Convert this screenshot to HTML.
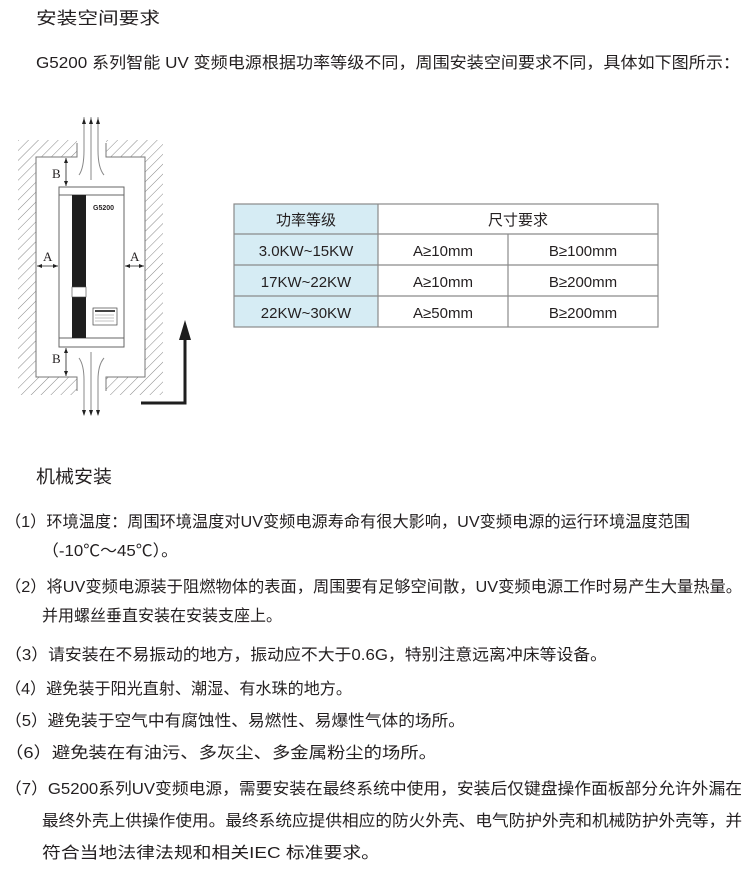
<!DOCTYPE html>
<html><head><meta charset="utf-8"><style>
html,body{margin:0;padding:0;background:#fff;}
svg{display:block}
text{font-family:"Liberation Sans","Noto Sans CJK SC",sans-serif;fill:#231f20}
</style></head><body>
<svg width="750" height="891" viewBox="0 0 750 891" xmlns="http://www.w3.org/2000/svg">
<defs>
<pattern id="h" width="7" height="7" patternUnits="userSpaceOnUse" patternTransform="rotate(45)">
<line x1="0" y1="0" x2="0" y2="7" stroke="#888" stroke-width="1"/>
</pattern>
</defs>
<text x="36" y="24" font-size="17" textLength="124" lengthAdjust="spacingAndGlyphs">安装空间要求</text>
<text x="36" y="68" font-size="16" textLength="704" lengthAdjust="spacingAndGlyphs">G5200  系列智能 UV 变频电源根据功率等级不同，周围安装空间要求不同，具体如下图所示：</text>

<path d="M18,140 H77 V157 H36 V377 H77 V395 H18 Z" fill="url(#h)"/>
<path d="M106,140 H163 V395 H106 V377 H145 V157 H106 Z" fill="url(#h)"/>
<path d="M77,143 V157 H36 V377 H77 V391 M106,143 V157 H145 V377 H106 V391" fill="none" stroke="#777" stroke-width="1"/>
<path d="M79,175 Q84,168 84,150 V117 M104,175 Q98,168 98,150 V117 M91,180 V117" fill="none" stroke="#888" stroke-width="1"/>
<path d="M84,118 l-2,6 h4z M91,118 l-2,6 h4z M98,118 l-2,6 h4z" fill="#222"/>
<path d="M79,358 Q84,365 84,380 V415 M104,358 Q98,365 98,380 V415 M91,352 V415" fill="none" stroke="#888" stroke-width="1"/>
<path d="M84,416 l-2,-6 h4z M91,416 l-2,-6 h4z M98,416 l-2,-6 h4z" fill="#222"/>
<rect x="59" y="187" width="65" height="160" fill="#fff" stroke="#666"/>
<line x1="59" y1="195" x2="124" y2="195" stroke="#666"/>
<line x1="59" y1="338" x2="124" y2="338" stroke="#666"/>
<rect x="72" y="195" width="14" height="143" fill="#1e1e1e"/>
<rect x="72" y="287" width="14" height="10" fill="#fff" stroke="#444" stroke-width="0.6"/>
<text x="93" y="210" font-size="7" font-weight="bold" fill="#222">G5200</text>
<rect x="93" y="308" width="24" height="17" fill="#fff" stroke="#444" stroke-width="0.7"/>
<rect x="95" y="310" width="20" height="2" fill="#444"/>
<line x1="95" y1="315" x2="114" y2="315" stroke="#888" stroke-width="0.6"/>
<line x1="95" y1="318" x2="114" y2="318" stroke="#888" stroke-width="0.6"/>
<line x1="95" y1="321" x2="114" y2="321" stroke="#888" stroke-width="0.6"/>
<line x1="66" y1="158" x2="66" y2="186" stroke="#222" stroke-width="0.8"/>
<path d="M66,158 l-2,5 h4z M66,186 l-2,-5 h4z" fill="#222"/>
<text x="52" y="178" font-size="13" style="font-family:'Liberation Serif',serif">B</text>
<line x1="66" y1="348" x2="66" y2="376" stroke="#222" stroke-width="0.8"/>
<path d="M66,348 l-2,5 h4z M66,376 l-2,-5 h4z" fill="#222"/>
<text x="52" y="363" font-size="13" style="font-family:'Liberation Serif',serif">B</text>
<line x1="37" y1="266" x2="58" y2="266" stroke="#222" stroke-width="0.8"/>
<path d="M37,266 l5,-2 v4z M58,266 l-5,-2 v4z" fill="#222"/>
<text x="43" y="261" font-size="13" style="font-family:'Liberation Serif',serif">A</text>
<line x1="125" y1="266" x2="144" y2="266" stroke="#222" stroke-width="0.8"/>
<path d="M125,266 l5,-2 v4z M144,266 l-5,-2 v4z" fill="#222"/>
<text x="130" y="261" font-size="13" style="font-family:'Liberation Serif',serif">A</text>
<path d="M141,403 H185 V335" fill="none" stroke="#1e1e1e" stroke-width="3"/>
<path d="M185,320 l-6,20 h12z" fill="#1e1e1e"/>

<rect x="234" y="204" width="144" height="123" fill="#d6ecf4"/>
<g stroke="#8a8a8a" stroke-width="1.2" fill="none">
<rect x="234" y="204" width="424" height="123"/>
<line x1="234" y1="234" x2="658" y2="234"/>
<line x1="234" y1="265" x2="658" y2="265"/>
<line x1="234" y1="296" x2="658" y2="296"/>
<line x1="378" y1="204" x2="378" y2="327"/>
<line x1="508" y1="234" x2="508" y2="327"/>
</g>
<g font-size="15" text-anchor="middle">
<text x="306" y="225">功率等级</text>
<text x="518" y="225">尺寸要求</text>
<text x="306" y="256">3.0KW~15KW</text>
<text x="443" y="256">A≥10mm</text>
<text x="583" y="256">B≥100mm</text>
<text x="306" y="287">17KW~22KW</text>
<text x="443" y="287">A≥10mm</text>
<text x="583" y="287">B≥200mm</text>
<text x="306" y="318">22KW~30KW</text>
<text x="443" y="318">A≥50mm</text>
<text x="583" y="318">B≥200mm</text>
</g>

<text x="36" y="483" font-size="18" textLength="76" lengthAdjust="spacingAndGlyphs">机械安装</text>
<g font-size="16">
<text x="5" y="527" textLength="685" lengthAdjust="spacingAndGlyphs">（1）环境温度：周围环境温度对UV变频电源寿命有很大影响，UV变频电源的运行环境温度范围</text>
<text x="42" y="556" textLength="136" lengthAdjust="spacingAndGlyphs">（-10℃～45℃）。</text>
<text x="5" y="592" textLength="737" lengthAdjust="spacingAndGlyphs">（2）将UV变频电源装于阻燃物体的表面，周围要有足够空间散，UV变频电源工作时易产生大量热量。</text>
<text x="42" y="621" textLength="240" lengthAdjust="spacingAndGlyphs">并用螺丝垂直安装在安装支座上。</text>
<text x="5" y="660" textLength="602" lengthAdjust="spacingAndGlyphs">（3）请安装在不易振动的地方，振动应不大于0.6G，特别注意远离冲床等设备。</text>
<text x="5" y="694" textLength="347" lengthAdjust="spacingAndGlyphs">（4）避免装于阳光直射、潮湿、有水珠的地方。</text>
<text x="5" y="726" textLength="460" lengthAdjust="spacingAndGlyphs">（5）避免装于空气中有腐蚀性、易燃性、易爆性气体的场所。</text>
<text x="5" y="758" textLength="432" lengthAdjust="spacingAndGlyphs">（6）避免装在有油污、多灰尘、多金属粉尘的场所。</text>
<text x="5" y="794" textLength="737" lengthAdjust="spacingAndGlyphs">（7）G5200系列UV变频电源，需要安装在最终系统中使用，安装后仅键盘操作面板部分允许外漏在</text>
<text x="42" y="826" textLength="700" lengthAdjust="spacingAndGlyphs">最终外壳上供操作使用。最终系统应提供相应的防火外壳、电气防护外壳和机械防护外壳等，并</text>
<text x="42" y="858" textLength="338" lengthAdjust="spacingAndGlyphs">符合当地法律法规和相关IEC 标准要求。</text>
</g>
</svg>
</body></html>
